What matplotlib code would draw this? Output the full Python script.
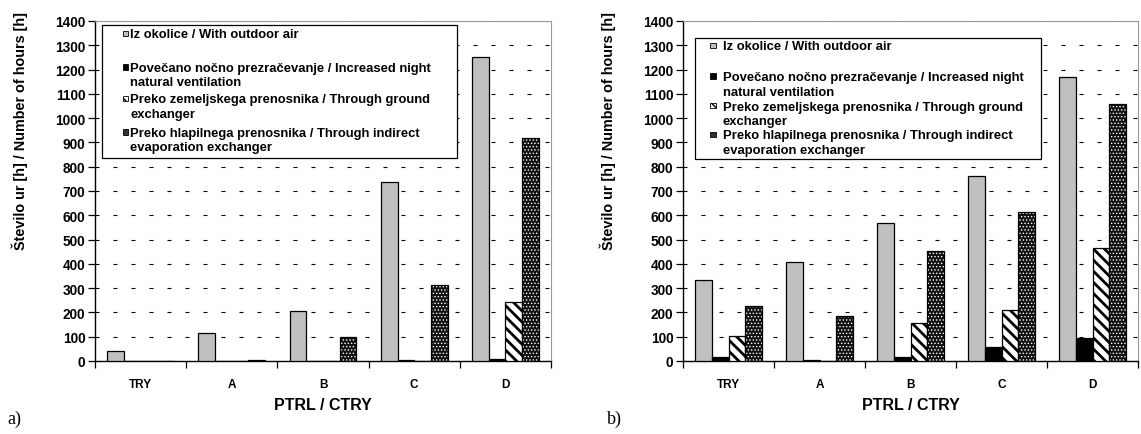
import numpy as np
import matplotlib
matplotlib.use("Agg")
import matplotlib.pyplot as plt
from matplotlib.patches import Rectangle

plt.rcParams['font.family'] = ['Liberation Sans', 'DejaVu Sans']
plt.rcParams['font.weight'] = 'bold'
plt.rcParams['axes.labelweight'] = 'bold'

categories = ["TRY", "A", "B", "C", "D"]
labels = ["Iz okolice / With outdoor air",
          "Povečano nočno prezračevanje / Increased night\nnatural ventilation",
          "Preko zemeljskega prenosnika / Through ground\nexchanger",
          "Preko hlapilnega prenosnika / Through indirect\nevaporation exchanger"]

# panel a)
outdoor_a = [41, 116, 204, 738, 1250]
night_a = [0, 0, 0, 3, 8]
ground_a = [0, 0, 0, 0, 241]
evap_a = [0, 4, 97, 311, 920]

# panel b)
outdoor_b = [333, 406, 570, 763, 1169]
night_b = [18, 5, 17, 58, 93]
ground_b = [103, 0, 155, 210, 466]
evap_b = [226, 185, 453, 613, 1057]

W = 0.183
fig = plt.figure(figsize=(11.41, 4.35), dpi=100)
AXH = 340.0  # axes height in px


def hatch_lw(bars, lw):
    for p in bars:
        if hasattr(p, 'set_hatch_linewidth'):
            p.set_hatch_linewidth(lw)
        else:
            p._hatch_linewidth = lw


def draw_bars(ax, series):
    x = np.arange(len(categories))
    for i, vals in enumerate(series):
        xs = x + (i - 1.5) * W
        if i == 0:
            ax.bar(xs, vals, W, color='#c0c0c0', edgecolor='black', lw=0.9, zorder=3)
        elif i == 1:
            ax.bar(xs, vals, W, color='black', edgecolor='black', lw=0.9, zorder=3)
        elif i == 2:
            b = ax.bar(xs, vals, W, color='white', edgecolor='black', hatch='\\\\\\', lw=0.9, zorder=3)
            hatch_lw(b, 2.0)
        else:
            ax.bar(xs, vals, W, color='#111111', edgecolor='none', lw=0, zorder=3)
            b = ax.bar(xs, vals, W, color='none', edgecolor='white', hatch='.....', lw=0, zorder=3)
            hatch_lw(b, 0.6)
            ax.bar(xs, vals, W, fill=False, edgecolor='black', lw=0.9, zorder=3)


def draw_legend(ax, box, rows, tx, mx):
    x0, x1, y0, y1 = box
    ax.add_patch(Rectangle((x0, y0), x1 - x0, y1 - y0, transform=ax.transAxes,
                           facecolor='white', edgecolor='black', lw=0.9, zorder=5))
    styles = [dict(facecolor='#c0c0c0', edgecolor='black'),
              dict(facecolor='black', edgecolor='black'),
              dict(facecolor='white', edgecolor='black', hatch='\\\\\\\\'),
              dict(facecolor='#333333', edgecolor='black')]
    for lab, r, st in zip(labels, rows, styles):
        yc = y1 - r / AXH
        ax.add_patch(Rectangle((mx, yc - 2.8 / AXH), 5.6 / 456, 5.6 / AXH, transform=ax.transAxes,
                               lw=0.6, zorder=6, **st))
        ax.text(tx, yc + 5.0 / AXH, lab, transform=ax.transAxes, fontsize=9.4,
                fontweight='bold', va='top', ha='left', linespacing=1.3, zorder=7)


def setup(ax):
    ax.set_xlim(-0.5, 4.5)
    ax.set_ylim(0, 1400)
    ax.set_yticks(np.arange(0, 1401, 100))
    ax.set_xticks(np.arange(5))
    ax.set_xticklabels(categories, fontsize=8.5, fontweight='bold')
    ax.set_yticklabels([str(v) for v in range(0, 1401, 100)], fontsize=9.8, fontweight='bold')
    ax.set_xticks(np.arange(-0.5, 4.6, 1), minor=True)
    ax.tick_params(axis='x', which='major', length=0, pad=12)
    ax.tick_params(axis='x', which='minor', length=5, width=0.9, direction='out')
    ax.tick_params(axis='y', length=5, width=0.9, pad=2)
    ax.yaxis.grid(True, color='black', lw=0.8, linestyle=(0, (3.6, 12.6)), zorder=0)
    ax.set_axisbelow(True)
    for s in ['left', 'bottom']:
        ax.spines[s].set_color('black')
        ax.spines[s].set_linewidth(1.0)
    for s in ['top', 'right']:
        ax.spines[s].set_color('#999999')
        ax.spines[s].set_linewidth(0.8)
    ax.set_ylabel("Število ur [h] / Number of hours [h]", fontsize=10.4, fontweight='bold')
    ax.yaxis.set_label_coords(-0.147, 0.68)
    ax.set_xlabel("PTRL / CTRY", fontsize=11.5, fontweight='bold', labelpad=5)


ax1 = fig.add_axes([95 / 1141, 73 / 435, 456 / 1141, 340 / 435])
draw_bars(ax1, [outdoor_a, night_a, ground_a, evap_a])
setup(ax1)
draw_legend(ax1, (0.015, 0.794, 0.597, 0.988), [8.3, 41.7, 73.3, 106.7], 0.077, 0.061)

ax2 = fig.add_axes([683 / 1141, 73 / 435, 455 / 1141, 340 / 435])
draw_bars(ax2, [outdoor_b, night_b, ground_b, evap_b])
setup(ax2)
draw_legend(ax2, (0.026, 0.787, 0.593, 0.951), [7.7, 38.3, 68, 96.7], 0.087, 0.060)

fig.text(7 / 1141, 1 - 419 / 435, "a)", family='Liberation Serif', fontweight='normal',
         fontsize=13, va='center', ha='left')
fig.text(607 / 1141, 1 - 419 / 435, "b)", family='Liberation Serif', fontweight='normal',
         fontsize=13, va='center', ha='left')

fig.savefig("out.png", dpi=100)
